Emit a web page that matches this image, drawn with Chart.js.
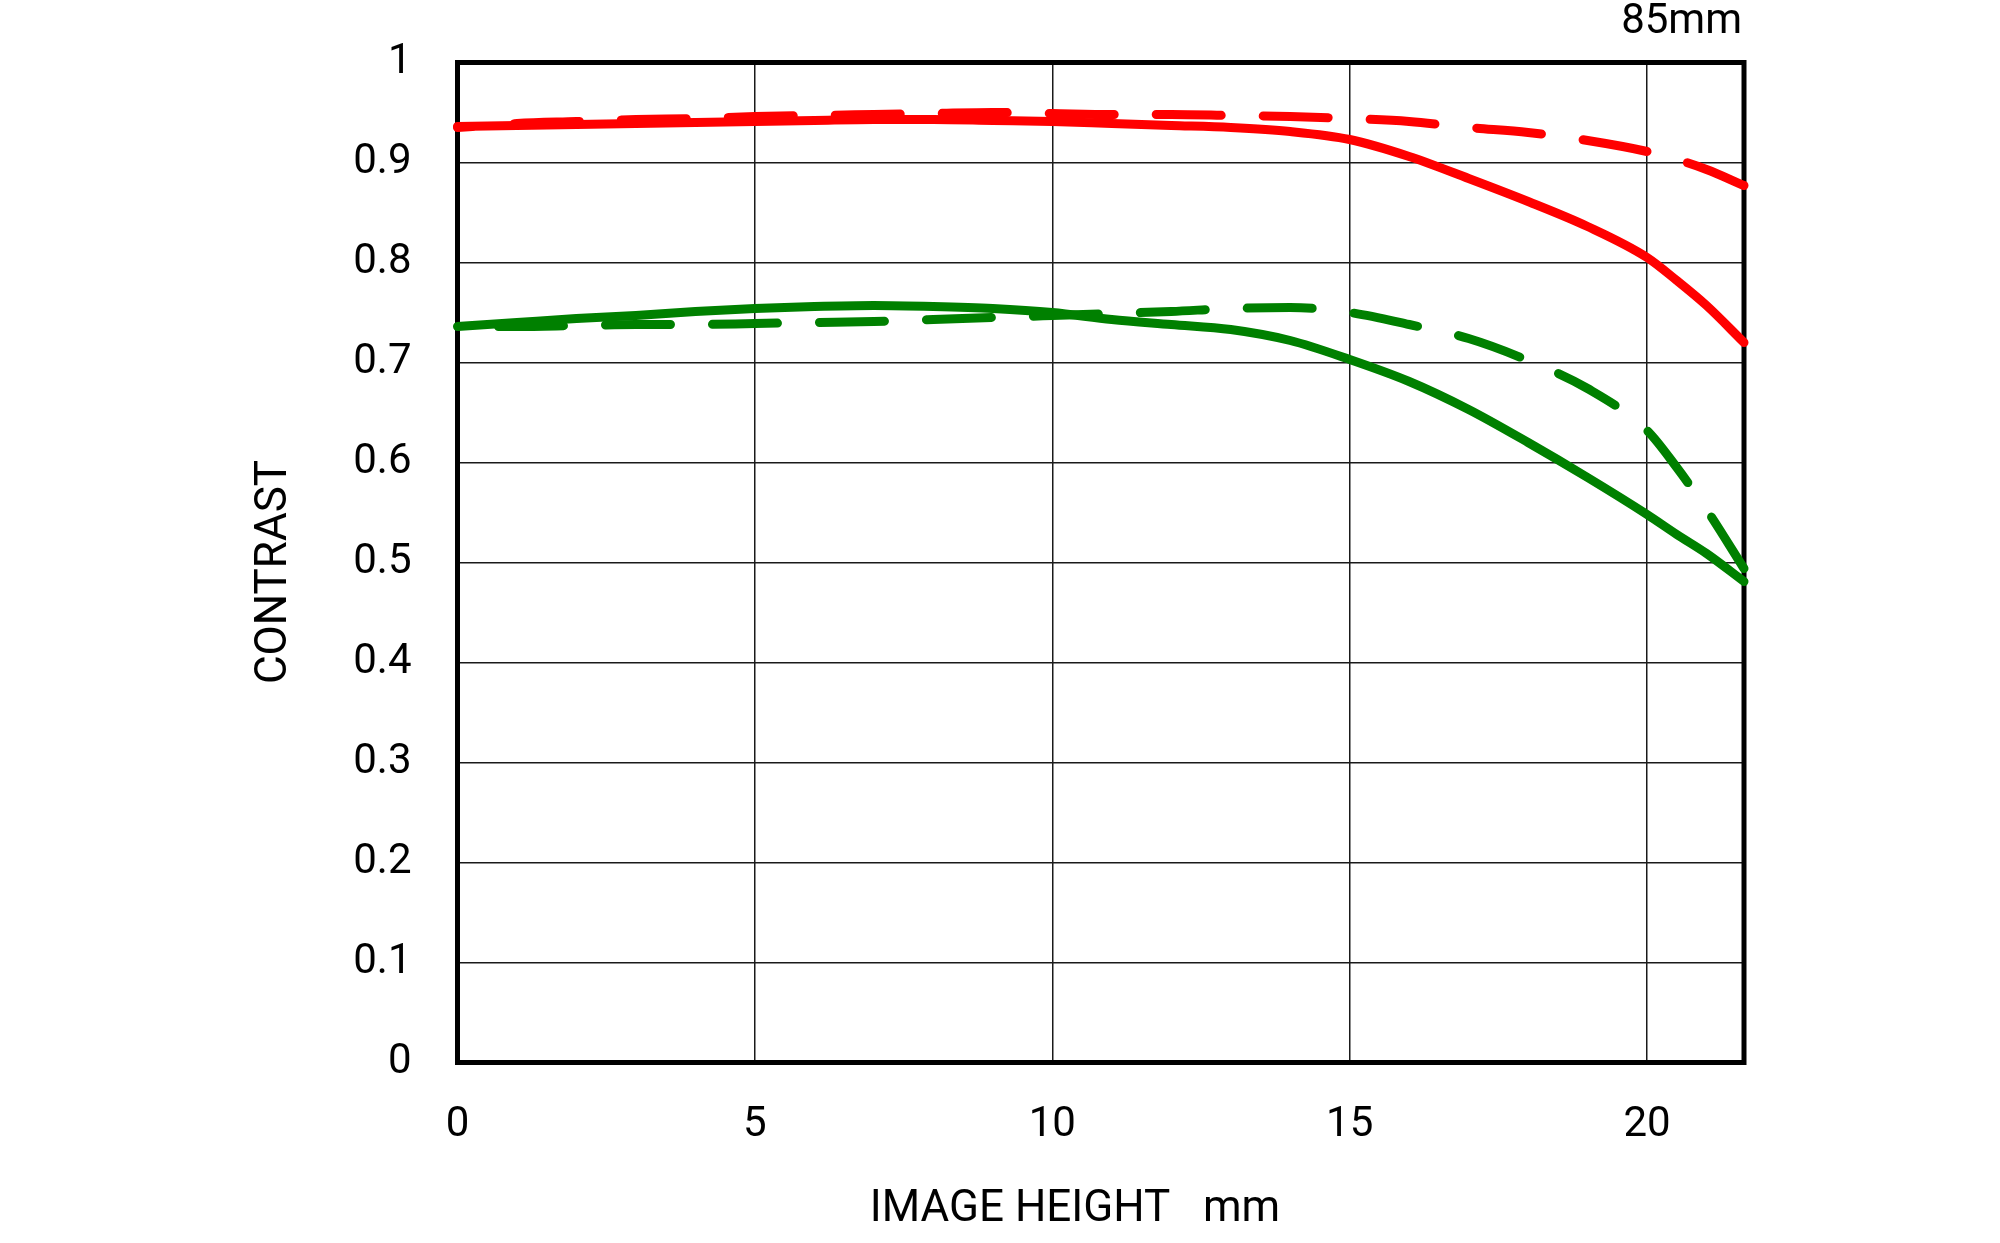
<!DOCTYPE html>
<html>
<head>
<meta charset="utf-8">
<script src="https://cdn.jsdelivr.net/npm/chart.js@4.4.1/dist/chart.umd.min.js"></script>
<style>
  html, body { margin: 0; padding: 0; background: #fff; }
  canvas { display: block; }
</style>
</head>
<body>
<canvas id="chart" width="2000" height="1243"></canvas>
<script>
// ---- data ----
const imageHeight = [0, 1, 2, 3, 4, 5, 6, 7, 8, 9, 10, 11, 12, 13, 14, 15, 16, 17, 18, 19, 20, 20.5, 21, 21.63];
const redSolid    = [0.936, 0.937, 0.938, 0.939, 0.940, 0.941, 0.942, 0.943, 0.943, 0.942, 0.941, 0.939, 0.937, 0.935, 0.931, 0.923, 0.906, 0.884, 0.861, 0.836, 0.805, 0.782, 0.757, 0.720];
const redDashed   = [0.935, 0.939, 0.941, 0.943, 0.944, 0.946, 0.947, 0.948, 0.949, 0.950, 0.949, 0.948, 0.948, 0.947, 0.946, 0.944, 0.941, 0.935, 0.930, 0.922, 0.911, 0.903, 0.893, 0.877];
const greenSolid  = [0.736, 0.740, 0.744, 0.747, 0.751, 0.754, 0.756, 0.757, 0.756, 0.754, 0.750, 0.743, 0.738, 0.733, 0.722, 0.703, 0.681, 0.653, 0.620, 0.585, 0.548, 0.528, 0.509, 0.481];
const greenDashed = [0.736, 0.736, 0.737, 0.738, 0.738, 0.739, 0.740, 0.741, 0.743, 0.745, 0.747, 0.749, 0.751, 0.754, 0.755, 0.750, 0.738, 0.724, 0.702, 0.674, 0.632, 0.595, 0.553, 0.494];

const xTickValues = [0, 5, 10, 15, 20];
const xTickLabels = ['0', '5', '10', '15', '20'];
const yTickValues = [0, 0.1, 0.2, 0.3, 0.4, 0.5, 0.6, 0.7, 0.8, 0.9, 1];
const yTickLabels = ['0', '0.1', '0.2', '0.3', '0.4', '0.5', '0.6', '0.7', '0.8', '0.9', '1'];
const xMax = 21.63;

const focalLabel = '85mm';
const xTitle = 'IMAGE HEIGHT   mm';
const yTitle = 'CONTRAST';

// ---- helpers ----
const pts = (ys) => imageHeight.map((x, i) => ({ x: x, y: ys[i] }));

const RED = '#ff0000';
const GREEN = '#008000';
const FONT = 'Roboto, "Liberation Sans", sans-serif';

const frameAndText = {
  id: 'frameAndText',
  beforeDatasetsDraw(chart) {
    const { ctx, chartArea: a } = chart;
    ctx.save();
    ctx.lineWidth = 5;
    ctx.strokeStyle = '#000';
    ctx.strokeRect(a.left, a.top, a.right - a.left, a.bottom - a.top);
    ctx.restore();
  },
  afterDraw(chart) {
    const { ctx, chartArea: a } = chart;
    ctx.save();
    ctx.fillStyle = '#000';
    // focal length, top right
    ctx.font = '42px ' + FONT;
    ctx.textAlign = 'right';
    ctx.textBaseline = 'alphabetic';
    ctx.fillText(focalLabel, a.right - 2, 33);
    // x title
    ctx.font = '44px ' + FONT;
    ctx.textAlign = 'center';
    ctx.fillText(xTitle, 1075, 1221);
    // y title (rotated)
    ctx.translate(286, 572);
    ctx.rotate(-Math.PI / 2);
    ctx.textAlign = 'center';
    ctx.fillText(yTitle, 0, 0);
    ctx.restore();
  }
};

const lineDs = (label, ys, color, dashed, offset) => ({
  label: label,
  data: pts(ys),
  borderColor: color,
  backgroundColor: color,
  borderWidth: 9,
  borderCapStyle: 'round',
  borderJoinStyle: 'round',
  borderDash: dashed ? [65, 42] : [],
  borderDashOffset: offset || 0,
  pointRadius: 0,
  fill: false,
  cubicInterpolationMode: 'monotone',
  clip: false
});

new Chart(document.getElementById('chart'), {
  type: 'line',
  data: {
    datasets: [
      lineDs('green dashed', greenDashed, GREEN, true, 66),
      lineDs('green solid', greenSolid, GREEN, false),
      lineDs('red dashed', redDashed, RED, true, 50),
      lineDs('red solid', redSolid, RED, false)
    ]
  },
  options: {
    responsive: false,
    animation: false,
    devicePixelRatio: 1,
    layout: { padding: { top: 62.5, right: 256, left: 0, bottom: 0 } },
    plugins: { legend: { display: false }, tooltip: { enabled: false } },
    scales: {
      x: {
        type: 'linear',
        min: 0,
        max: xMax,
        afterBuildTicks: (s) => { s.ticks = xTickValues.map(v => ({ value: v })); },
        afterFit: (s) => { s.height = 180.5; s.paddingLeft = 0; s.paddingRight = 0; },
        border: { display: false },
        grid: { color: '#1a1a1a', lineWidth: 1.5, drawTicks: false },
        ticks: {
          autoSkip: false,
          maxRotation: 0,
          padding: 37.5,
          color: '#000',
          font: { family: FONT, size: 42 },
          callback: (v) => { const i = xTickValues.indexOf(v); return i >= 0 ? xTickLabels[i] : ''; }
        }
      },
      y: {
        type: 'linear',
        min: 0,
        max: 1,
        afterBuildTicks: (s) => { s.ticks = yTickValues.map(v => ({ value: v })); },
        afterFit: (s) => { s.width = 457.5; s.paddingTop = 0; s.paddingBottom = 0; },
        border: { display: false },
        grid: { color: '#1a1a1a', lineWidth: 1.5, drawTicks: false },
        ticks: {
          autoSkip: false,
          padding: 46,
          color: '#000',
          font: { family: FONT, size: 42 },
          callback: (v) => { const i = yTickValues.findIndex(t => Math.abs(t - v) < 1e-9); return i >= 0 ? yTickLabels[i] : ''; }
        }
      }
    }
  },
  plugins: [frameAndText]
});
</script>
</body>
</html>
